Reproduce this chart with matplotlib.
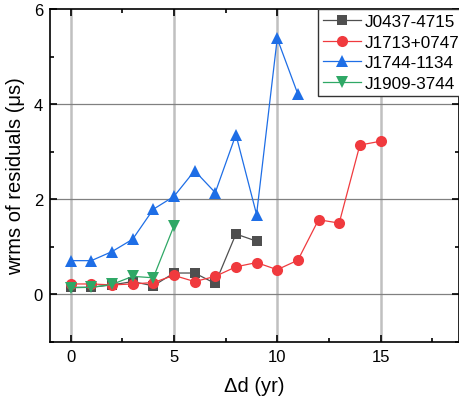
import numpy as np
import matplotlib.pyplot as plt
from matplotlib.ticker import MultipleLocator

plt.rcParams['font.family'] = ['Liberation Sans', 'DejaVu Sans']

# data
names = ['J0437-4715', 'J1713+0747', 'J1744-1134', 'J1909-3744']
colors = ['#4f4f4f', '#f03a3e', '#1e6ee6', '#2fa866']
markers = ['s', 'o', '^', 'v']
msizes = [6.5, 8, 8, 8]

x_0437 = [0, 1, 2, 3, 4, 5, 6, 7, 8, 9]
y_0437 = [0.15, 0.15, 0.20, 0.27, 0.18, 0.45, 0.45, 0.23, 1.27, 1.12]
x_1713 = [0, 1, 2, 3, 4, 5, 6, 7, 8, 9, 10, 11, 12, 13, 14, 15]
y_1713 = [0.22, 0.22, 0.20, 0.22, 0.25, 0.40, 0.27, 0.38, 0.58, 0.67, 0.52, 0.72, 1.57, 1.50, 3.14, 3.22]
x_1744 = [0, 1, 2, 3, 4, 5, 6, 7, 8, 9, 10, 11]
y_1744 = [0.71, 0.71, 0.90, 1.16, 1.79, 2.06, 2.60, 2.14, 3.36, 1.68, 5.38, 4.21]
x_1909 = [0, 1, 2, 3, 4, 5]
y_1909 = [0.14, 0.15, 0.21, 0.38, 0.35, 1.44]

xs = [x_0437, x_1713, x_1744, x_1909]
ys = [y_0437, y_1713, y_1744, y_1909]

fig = plt.figure(figsize=(4.59, 4.10), dpi=100)
ax = fig.add_axes([50/459, 67/410, 409/459, 333/410])

for x, y, n, c, m, s in zip(xs, ys, names, colors, markers, msizes):
    ax.plot(x, y, color=c, marker=m, markersize=s, linewidth=0.9,
            markeredgewidth=0, label=n, zorder=3)

ax.set_xlim(-1, 18.8)
ax.set_ylim(-1, 6)
ax.xaxis.set_major_locator(MultipleLocator(5))
ax.xaxis.set_minor_locator(MultipleLocator(2.5))
ax.yaxis.set_major_locator(MultipleLocator(2))
ax.yaxis.set_minor_locator(MultipleLocator(1))

# grid: light thick verticals, thin dark horizontals
for gx in [0, 5, 10, 15]:
    ax.axvline(gx, color='#c0c0c0', linewidth=1.8, zorder=1)
for gy in [0, 2, 4]:
    ax.axhline(gy, color='#808080', linewidth=0.9, zorder=1)

ax.tick_params(which='both', direction='in', top=True, right=True,
               labelsize=12, width=1.2)
ax.tick_params(which='major', length=5, pad=5)
ax.tick_params(which='minor', length=3)
for sp in ax.spines.values():
    sp.set_linewidth(1.2)

ax.set_xlabel('Δd (yr)', fontsize=14.5, labelpad=9)
ax.set_ylabel('wrms of residuals (μs)', fontsize=14.5, labelpad=6)

leg = ax.legend(loc='upper left', bbox_to_anchor=(318/459, 400/410),
                bbox_transform=fig.transFigure, fontsize=12.3, frameon=True,
                fancybox=False, edgecolor='#333333', framealpha=1,
                borderaxespad=0.0, handlelength=2.2, handletextpad=0.2,
                labelspacing=0.32, borderpad=0.32)
leg.get_frame().set_linewidth(1.0)

fig.savefig('out.png', dpi=100)
